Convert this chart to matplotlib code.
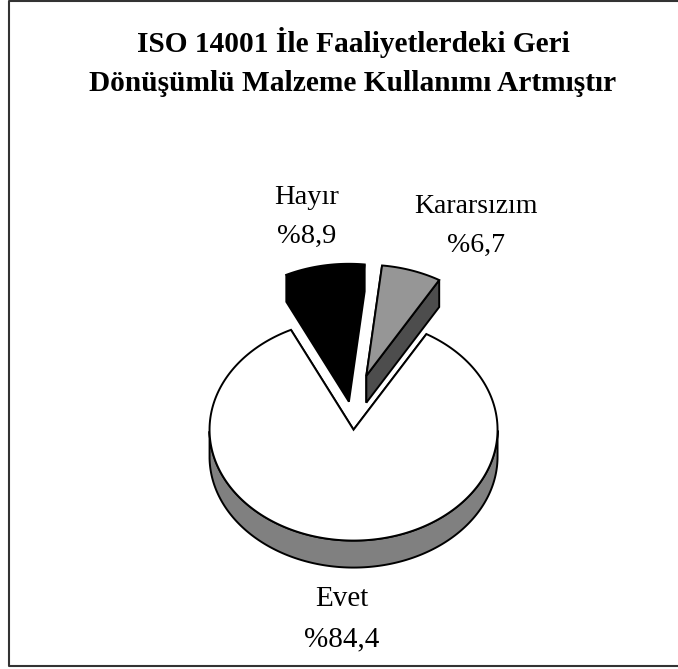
import numpy as np
from matplotlib import pyplot as plt

title = "ISO 14001 İle Faaliyetlerdeki Geri\nDönüşümlü Malzeme Kullanımı Artmıştır"
labels = ["Evet", "Hayır", "Kararsızım"]
values = [84.4, 8.9, 6.7]
value_labels = ["%84,4", "%8,9", "%6,7"]
top_colors = ["#ffffff", "#000000", "#969696"]
side_colors = ["#808080", "#000000", "#4d4d4d"]

W, H = 678, 669
RADIUS = 144
SQUASH = 0.77
DEPTH = 27
EXPLODE = 0.25
CENTER = (355, 402)
START = 30.4  # degrees clockwise from straight up, where Evet begins


def point(angle, offset):
    a = np.radians(angle)
    return offset[0] + RADIUS * np.sin(a), offset[1] - RADIUS * SQUASH * np.cos(a)


def draw_slice(ax, start, sweep, top, side):
    mid = np.radians(start + sweep / 2)
    apex = (CENTER[0] + EXPLODE * RADIUS * np.sin(mid),
            CENTER[1] - EXPLODE * RADIUS * SQUASH * np.cos(mid))
    angles = np.linspace(start, start + sweep, 300)
    xs, ys = point(angles, apex)

    # outer rim, only where it faces the viewer
    seen = (angles % 360 > 90) & (angles % 360 < 270)
    if seen.any():
        rx, ry = xs[seen], ys[seen]
        ax.fill(np.r_[rx, rx[::-1]], np.r_[ry, ry[::-1] + DEPTH],
                facecolor=side, edgecolor="black", lw=1.4, zorder=2)

    # cut faces
    for x, y in [(xs[0], ys[0]), (xs[-1], ys[-1])]:
        ax.fill([apex[0], x, x, apex[0]], [apex[1], y, y + DEPTH, apex[1] + DEPTH],
                facecolor=side, edgecolor="black", lw=1.4, zorder=2)

    ax.fill(np.r_[apex[0], xs], np.r_[apex[1], ys],
            facecolor=top, edgecolor="black", lw=1.4, zorder=3)


fig = plt.figure(figsize=(W / 100, H / 100), dpi=100)
ax = fig.add_axes([0, 0, 1, 1])
ax.set_xlim(0, W)
ax.set_ylim(H, 0)
ax.axis("off")

# frame has no right side in the original
ax.plot([W, 9, 9, W], [1, 1, 665.5, 665.5], color="#333333", lw=1.5, zorder=0)

angle = START
for value, top, side in zip(values, top_colors, side_colors):
    sweep = value * 3.6
    draw_slice(ax, angle, sweep, top, side)
    angle += sweep

font = "Liberation Serif"
ax.text(353, 62, title, ha="center", va="center", family=font, fontsize=21.2,
        fontweight="bold", linespacing=1.6, color="black")
label_pos = [(342, 619), (307, 217), (476, 226)]
sizes = [21, 20.5, 20]
for name, val, (x, y), size in zip(labels, value_labels, label_pos, sizes):
    ax.text(x, y, f"{name}\n{val}", ha="center", va="center", family=font,
            fontsize=size, linespacing=1.7, color="black")

fig.savefig("out.png", dpi=100)
